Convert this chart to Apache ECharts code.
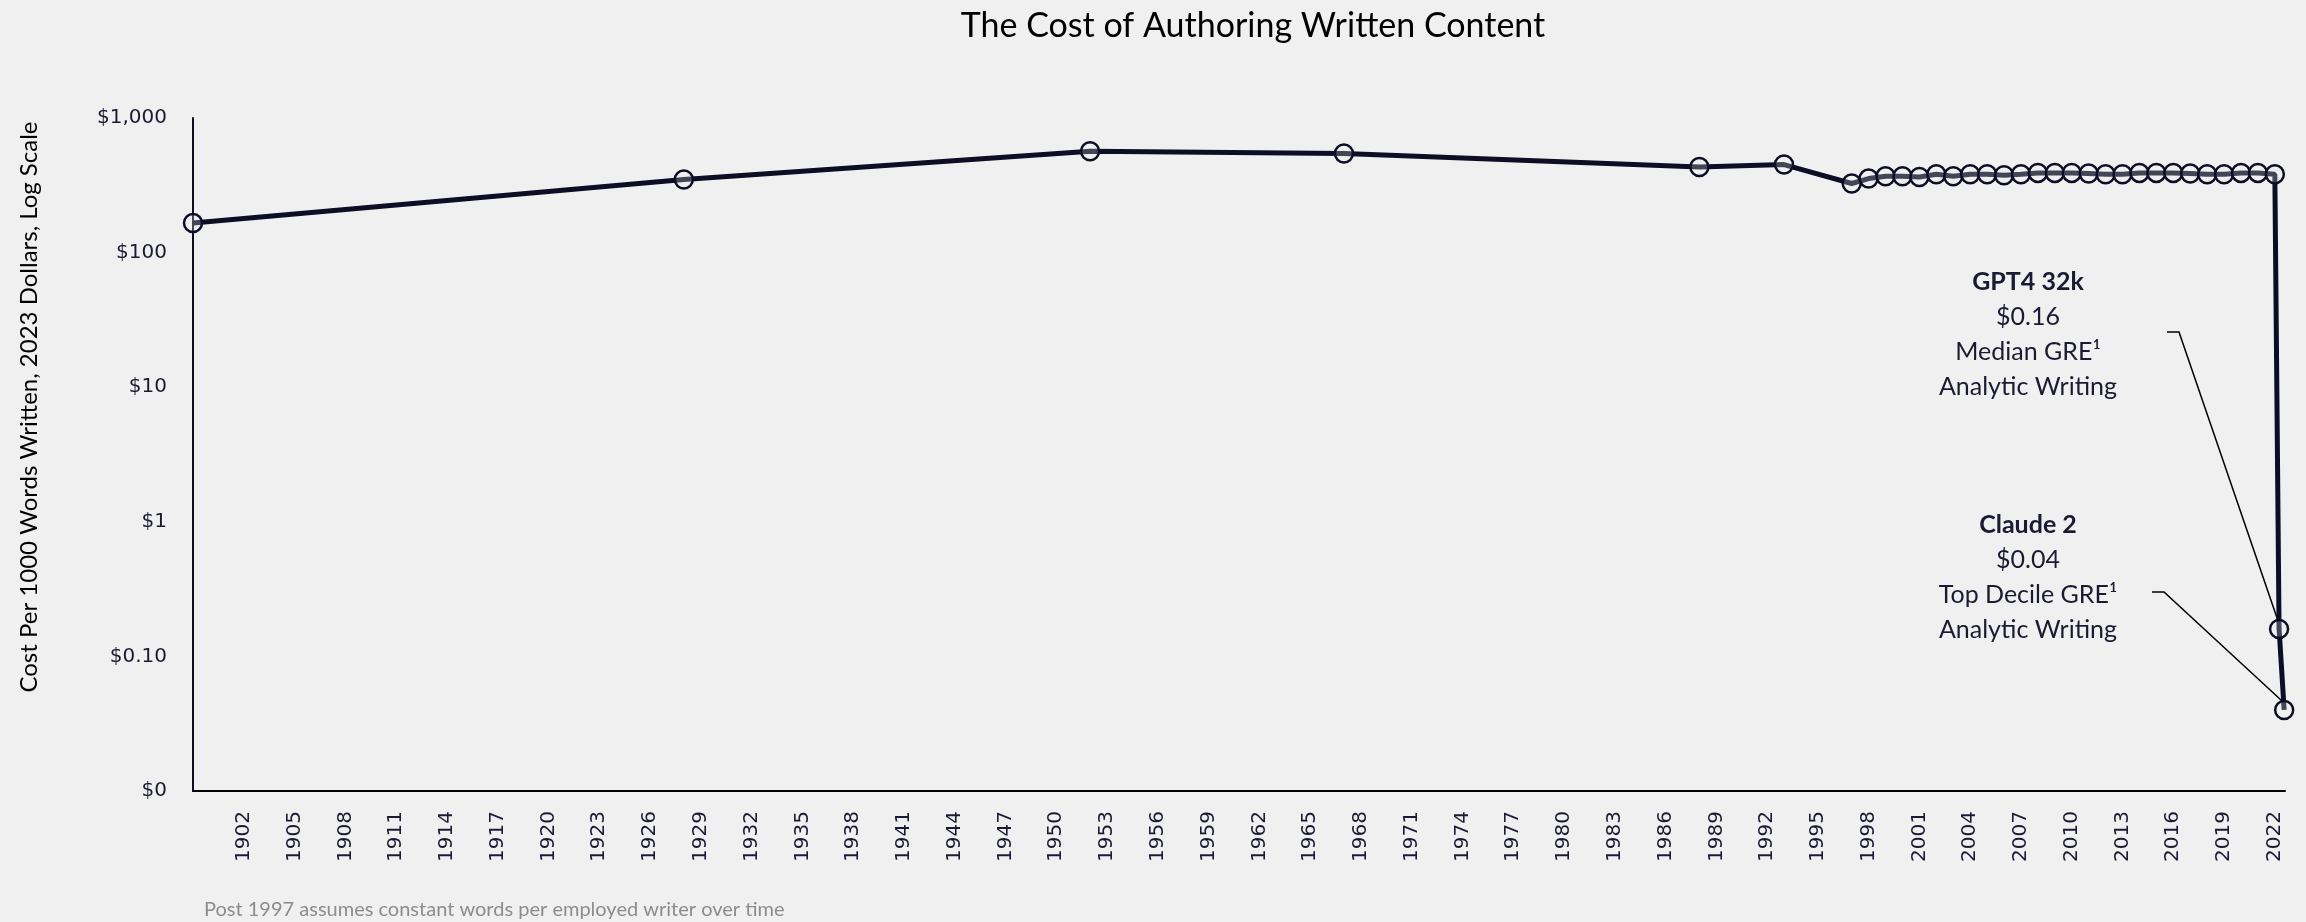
<!DOCTYPE html>
<html>
<head>
<meta charset="utf-8">
<title>The Cost of Authoring Written Content</title>
<script src="https://cdn.jsdelivr.net/npm/echarts/dist/echarts.min.js"></script>
<style>
  html, body { margin: 0; padding: 0; background: #f0f0f0; }
  #container { width: 2306px; height: 922px; }
</style>
</head>
<body>
<div id="container"></div>
<script>
// data
var years = [1899, 1928, 1952, 1967, 1988, 1993,
  1997, 1998, 1999, 2000, 2001, 2002, 2003, 2004, 2005, 2006, 2007, 2008, 2009,
  2010, 2011, 2012, 2013, 2014, 2015, 2016, 2017, 2018, 2019, 2020, 2021, 2022,
  2022.25, 2022.55];
var costs = [166, 349, 566, 545, 433, 451,
  326, 355, 369, 369, 365, 382, 369, 382, 382, 376, 382, 391, 391,
  391, 387, 382, 382, 391, 391, 391, 387, 382, 382, 391, 391, 382,
  0.16, 0.04];

// x tick labels (every 3 years)
var xTickYears = [1902, 1905, 1908, 1911, 1914, 1917, 1920, 1923, 1926, 1929,
  1932, 1935, 1938, 1941, 1944, 1947, 1950, 1953, 1956, 1959, 1962, 1965,
  1968, 1971, 1974, 1977, 1980, 1983, 1986, 1989, 1992, 1995, 1998, 2001,
  2004, 2007, 2010, 2013, 2016, 2019, 2022];
// y tick labels on the log axis
var yTickValues = [0.01, 0.1, 1, 10, 100, 1000];
var yTickLabels = ['$0', '$0.10', '$1', '$10', '$100', '$1,000'];

// annotations for the two AI points
var notes = [
  { idx: 32, lines: ['GPT4 32k', '$0.16', 'Median GRE\u00b9', 'Analytic Writing'] },
  { idx: 33, lines: ['Claude 2', '$0.04', 'Top Decile GRE\u00b9', 'Analytic Writing'] }
];

var ink = '#0d0d26';
var textFont = 'Lato, "Noto Sans", sans-serif';
var tickFont = '"DejaVu Sans", Verdana, sans-serif';

var seriesData = years.map(function (y, i) { return [y, costs[i]]; });

var dom = document.getElementById('container');
var myChart = echarts.init(dom, null, { renderer: 'canvas' });

var option = {
  backgroundColor: '#f0f0f0',
  animation: false,
  title: {
    text: 'The Cost of Authoring Written Content',
    left: 1248,
    top: 4,
    textAlign: 'center',
    textStyle: { fontFamily: textFont, fontWeight: 'normal', fontSize: 34, color: '#000' }
  },
  grid: { left: 193, right: 21, top: 118, bottom: 131 },
  xAxis: {
    type: 'value',
    min: 1899,
    max: 2022.6,
    splitLine: { show: false },
    axisTick: { show: false },
    axisLine: { show: true, lineStyle: { color: '#000', width: 2 } },
    axisLabel: {
      customValues: xTickYears,
      rotate: 90,
      margin: 20,
      fontFamily: tickFont,
      fontSize: 20,
      color: '#1a1a33',
      formatter: function (v) { return String(v); }
    }
  },
  yAxis: {
    type: 'log',
    logBase: 10,
    min: 0.01,
    max: 1000,
    splitLine: { show: false },
    axisTick: { show: false },
    axisLine: { show: true, lineStyle: { color: ink, width: 2 } },
    axisLabel: {
      margin: 26,
      fontFamily: tickFont,
      fontSize: 20,
      color: '#1a1a33',
      formatter: function (v) {
        for (var i = 0; i < yTickValues.length; i++) {
          if (Math.abs(Math.log10(v) - Math.log10(yTickValues[i])) < 1e-6) return yTickLabels[i];
        }
        return '';
      }
    }
  },
  series: [
    {
      type: 'line',
      data: seriesData,
      symbol: 'circle',
      symbolSize: 18,
      lineStyle: { color: ink, width: 5 },
      itemStyle: { color: 'rgba(240,240,240,0.25)', borderColor: ink, borderWidth: 2.5 },
      emphasis: { disabled: true },
      z: 3
    }
  ]
};
myChart.setOption(option);

// leader lines + text, placed next to the converted point positions
var graphics = [];
var textPos = [[2028, 334], [2028, 577]];
var elbowPos = [[2167, 332], [2152, 592]];
notes.forEach(function (n, k) {
  var p = myChart.convertToPixel({ seriesIndex: 0 }, seriesData[n.idx]);
  var txt = '{b|' + n.lines[0] + '}';
  for (var i = 1; i < n.lines.length; i++) txt += '\n{n|' + n.lines[i] + '}';
  graphics.push({
    type: 'text',
    x: textPos[k][0],
    y: textPos[k][1],
    style: {
      text: txt,
      align: 'center',
      verticalAlign: 'middle',
      textAlign: 'center',
      textVerticalAlign: 'middle',
      fill: '#1a1a33',
      rich: {
        b: { fontFamily: textFont, fontSize: 25, fontWeight: 'bold', lineHeight: 35, fill: '#1a1a33', align: 'center' },
        n: { fontFamily: textFont, fontSize: 25, lineHeight: 35, fill: '#1a1a33', align: 'center' }
      }
    }
  });
  graphics.push({
    type: 'polyline',
    shape: { points: [elbowPos[k], [elbowPos[k][0] + 12, elbowPos[k][1]], [p[0] - 1, p[1] - 8]] },
    style: { stroke: '#000', lineWidth: 1.5, fill: null },
    z: 10
  });
});

// rotated y axis title
graphics.push({
  type: 'text',
  x: 29,
  y: 407,
  rotation: Math.PI / 2,
  style: {
    text: 'Cost Per 1000 Words Written, 2023 Dollars, Log Scale',
    align: 'center',
    verticalAlign: 'middle',
    textAlign: 'center',
    textVerticalAlign: 'middle',
    font: '24px ' + textFont,
    fill: '#000'
  }
});

// footnote
graphics.push({
  type: 'text',
  x: 204,
  y: 910,
  style: {
    text: 'Post 1997 assumes constant words per employed writer over time',
    align: 'left',
    verticalAlign: 'middle',
    textAlign: 'left',
    textVerticalAlign: 'middle',
    font: '20px ' + textFont,
    fill: '#8c8c8c'
  }
});

myChart.setOption({ graphic: graphics });
</script>
</body>
</html>
